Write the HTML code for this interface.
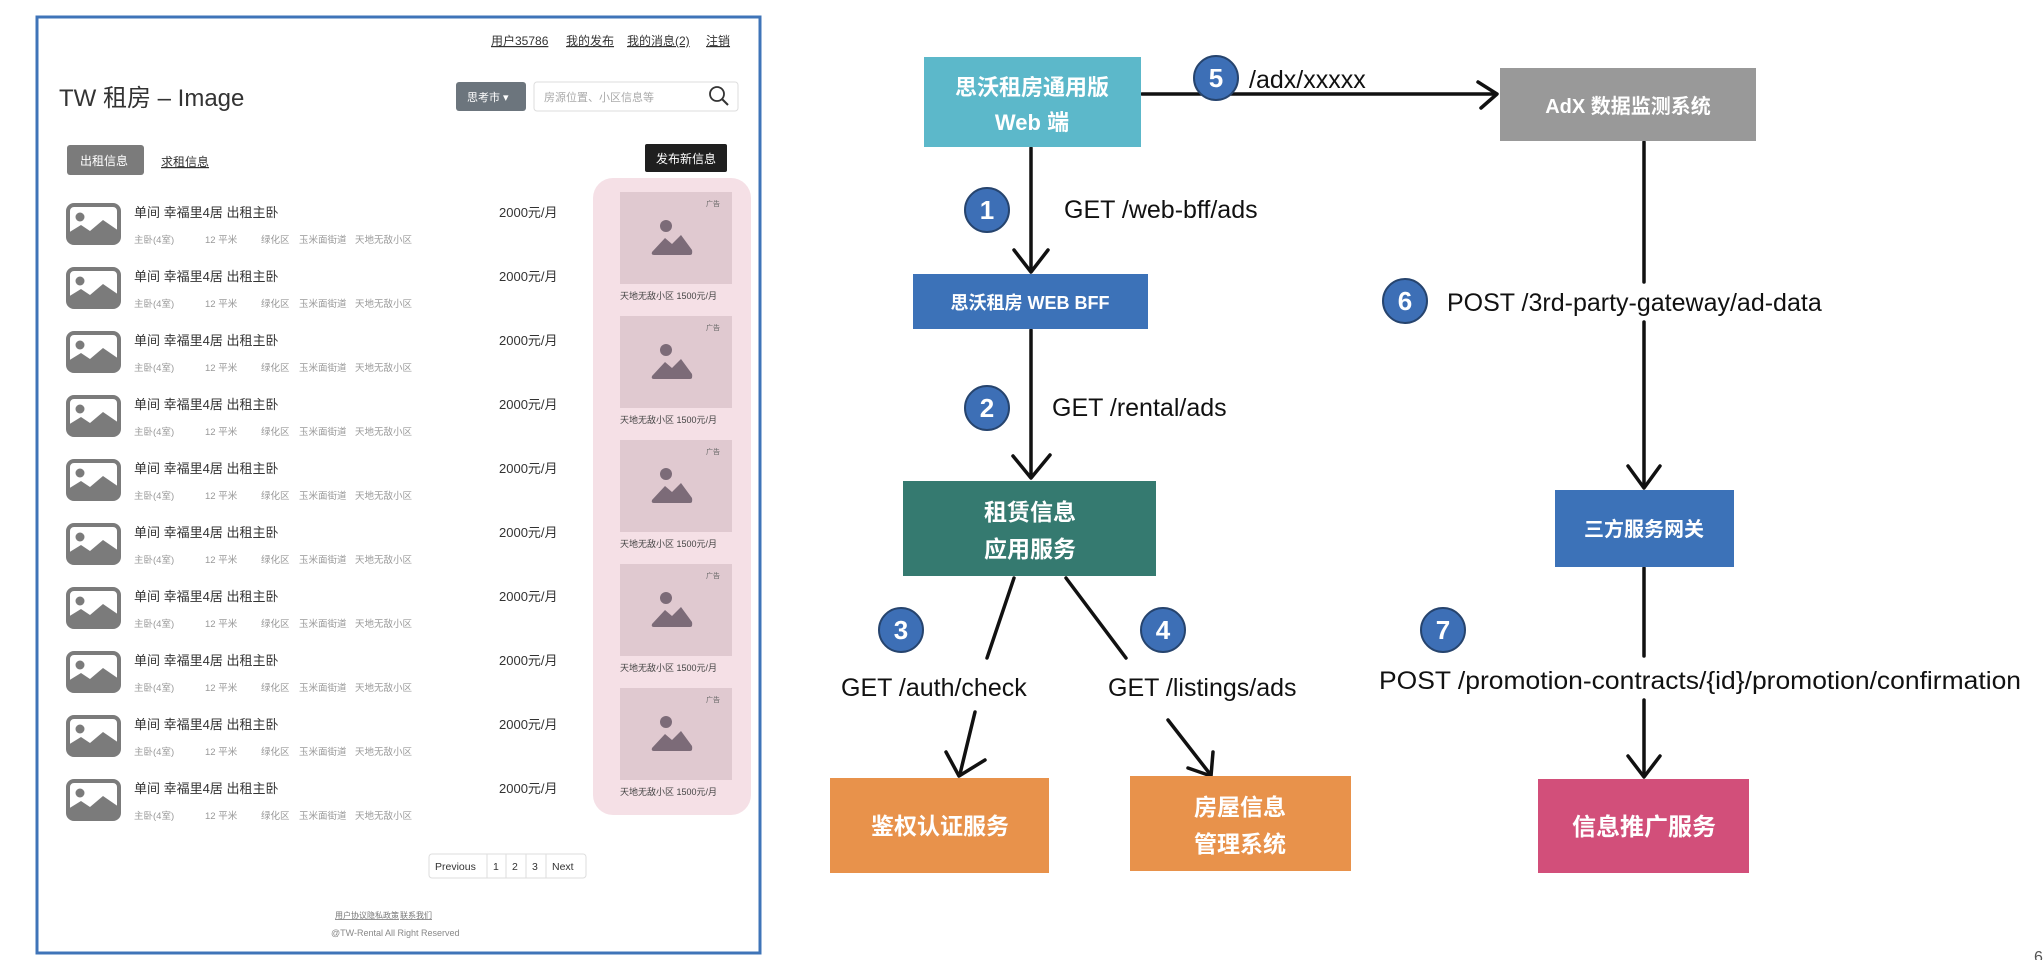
<!DOCTYPE html>
<html><head><meta charset="utf-8"><style>
html,body{margin:0;padding:0;background:#fff;}
svg{display:block;}
text{font-family:"Liberation Sans","Noto Sans CJK SC",sans-serif;}
</style></head><body>
<svg width="2044" height="960" viewBox="0 0 2044 960" xmlns="http://www.w3.org/2000/svg">
<defs>
<g id="ico">
<rect x="2" y="2" width="51" height="38" rx="6" fill="#fff" stroke="#7b7b7b" stroke-width="4"/>
<circle cx="14" cy="14" r="4.5" fill="#7b7b7b"/>
<path d="M2 30 L15 22 L24 28 L37 17 L53 28 L53 34 Q53 40 47 40 L8 40 Q2 40 2 34Z" fill="#7b7b7b"/>
</g>
<g id="row">
<use href="#ico"/>
<text x="68" y="14" font-size="13" fill="#333">单间 幸福里4居 出租主卧</text>
<text x="68" y="40" font-size="9.5" fill="#999">主卧(4室)</text>
<text x="139" y="40" font-size="9.5" fill="#999">12 平米</text>
<text x="195" y="40" font-size="9.5" fill="#999">绿化区</text>
<text x="233" y="40" font-size="9.5" fill="#999">玉米面街道</text>
<text x="289" y="40" font-size="9.5" fill="#999">天地无敌小区</text>
<text x="433" y="14" font-size="13" fill="#333">2000元/月</text>
</g>
<g id="ad">
<rect x="0" y="0" width="112" height="92" fill="#e0c9d0"/>
<text x="100" y="14" font-size="7" fill="#666" text-anchor="end">广告</text>
<circle cx="46" cy="34" r="6" fill="#7c6b78"/>
<path d="M32 60 L45 46 L52 52 L61 43 L72 58 Q73 63 70 63 L34 63 Q31 63 32 60Z" fill="#7c6b78"/>
<text x="0" y="107" font-size="9" fill="#444">天地无敌小区  1500元/月</text>
</g>
<g id="c">
<circle r="22" fill="#3d6fb6" stroke="#26446e" stroke-width="2"/>
</g>
</defs>

<!-- LEFT PANEL -->
<rect x="37" y="17" width="723" height="936" fill="#fff" stroke="#3f74b8" stroke-width="3"/>
<g font-size="12" fill="#333" text-decoration="underline">
<text x="491" y="45">用户35786</text>
<text x="566" y="45">我的发布</text>
<text x="627" y="45">我的消息(2)</text>
<text x="706" y="45">注销</text>
</g>
<text x="59" y="106" font-size="24" fill="#333">TW 租房 – Image</text>
<rect x="456" y="82" width="70" height="29" rx="3" fill="#6c757d"/>
<text x="467" y="101" font-size="11" fill="#fff">思考市 ▾</text>
<rect x="534" y="82" width="204" height="29" rx="3" fill="#fff" stroke="#ddd"/>
<text x="544" y="101" font-size="11" fill="#aaa">房源位置、小区信息等</text>
<circle cx="717" cy="94" r="7" fill="none" stroke="#333" stroke-width="1.8"/>
<line x1="722" y1="99" x2="728" y2="105" stroke="#333" stroke-width="2"/>
<rect x="67" y="145" width="77" height="30" rx="3" fill="#7b7b7b"/>
<text x="80" y="165" font-size="12" fill="#fff">出租信息</text>
<text x="161" y="166" font-size="12" fill="#333" text-decoration="underline">求租信息</text>
<rect x="645" y="144" width="82" height="28" rx="2" fill="#1f1f1f"/>
<text x="656" y="163" font-size="12" fill="#fff">发布新信息</text>

<rect x="593" y="178" width="158" height="637" rx="20" fill="#f5e0e6"/>
<use href="#ad" x="620" y="192"/>
<use href="#ad" x="620" y="316"/>
<use href="#ad" x="620" y="440"/>
<use href="#ad" x="620" y="564"/>
<use href="#ad" x="620" y="688"/>

<use href="#row" x="66" y="203"/>
<use href="#row" x="66" y="267"/>
<use href="#row" x="66" y="331"/>
<use href="#row" x="66" y="395"/>
<use href="#row" x="66" y="459"/>
<use href="#row" x="66" y="523"/>
<use href="#row" x="66" y="587"/>
<use href="#row" x="66" y="651"/>
<use href="#row" x="66" y="715"/>
<use href="#row" x="66" y="779"/>

<g stroke="#ddd" fill="#fff">
<rect x="429" y="854" width="157" height="24" rx="3"/>
<line x1="487" y1="854" x2="487" y2="878"/>
<line x1="506" y1="854" x2="506" y2="878"/>
<line x1="526" y1="854" x2="526" y2="878"/>
<line x1="546" y1="854" x2="546" y2="878"/>
</g>
<g font-size="10.5" fill="#333">
<text x="435" y="870">Previous</text>
<text x="493" y="870">1</text>
<text x="512" y="870">2</text>
<text x="532" y="870">3</text>
<text x="552" y="870">Next</text>
</g>
<g font-size="8" fill="#777" text-decoration="underline">
<text x="335" y="918">用户协议</text>
<text x="367" y="918">隐私政策</text>
<text x="400" y="918">联系我们</text>
</g>
<text x="331" y="936" font-size="9" fill="#888">@TW-Rental All Right Reserved</text>

<!-- RIGHT DIAGRAM -->
<g stroke="#111" stroke-width="3.5" fill="none" stroke-linecap="round" stroke-linejoin="round">
<path d="M1142 94 L1496 94"/>
<path d="M1478 82 L1497 94 L1481 108"/>
<path d="M1031 148 L1031 270"/>
<path d="M1014 250 L1031 272 L1048 250"/>
<path d="M1031 330 L1031 477"/>
<path d="M1013 456 L1031 478 L1050 455"/>
<path d="M1014 578 L987 658"/>
<path d="M975 712 L960 774"/>
<path d="M946 752 L959 776 L985 760"/>
<path d="M1066 578 L1126 658"/>
<path d="M1168 720 L1210 774"/>
<path d="M1188 768 L1211 776 L1213 752"/>
<path d="M1644 142 L1644 282"/>
<path d="M1644 322 L1644 486"/>
<path d="M1628 466 L1644 488 L1660 466"/>
<path d="M1644 568 L1644 656"/>
<path d="M1644 700 L1644 775"/>
<path d="M1628 756 L1644 777 L1660 756"/>
</g>

<rect x="924" y="57" width="217" height="90" fill="#5cb8ca"/>
<text x="1032" y="95" font-size="22" font-weight="bold" fill="#fff" text-anchor="middle">思沃租房通用版</text>
<text x="1032" y="130" font-size="22" font-weight="bold" fill="#fff" text-anchor="middle">Web 端</text>

<rect x="1500" y="68" width="256" height="73" fill="#999"/>
<text x="1628" y="113" font-size="20" font-weight="bold" fill="#fff" text-anchor="middle">AdX 数据监测系统</text>

<rect x="913" y="274" width="235" height="55" fill="#3c72b8"/>
<text x="1030" y="309" font-size="18" font-weight="bold" fill="#fff" text-anchor="middle">思沃租房 WEB BFF</text>

<rect x="903" y="481" width="253" height="95" fill="#357a70"/>
<text x="1030" y="520" font-size="23" font-weight="bold" fill="#fff" text-anchor="middle">租赁信息</text>
<text x="1030" y="557" font-size="23" font-weight="bold" fill="#fff" text-anchor="middle">应用服务</text>

<rect x="830" y="778" width="219" height="95" fill="#e8924b"/>
<text x="940" y="834" font-size="23" font-weight="bold" fill="#fff" text-anchor="middle">鉴权认证服务</text>

<rect x="1130" y="776" width="221" height="95" fill="#e8924b"/>
<text x="1240" y="815" font-size="23" font-weight="bold" fill="#fff" text-anchor="middle">房屋信息</text>
<text x="1240" y="852" font-size="23" font-weight="bold" fill="#fff" text-anchor="middle">管理系统</text>

<rect x="1555" y="490" width="179" height="77" fill="#3c72b8"/>
<text x="1644" y="536" font-size="20" font-weight="bold" fill="#fff" text-anchor="middle">三方服务网关</text>

<rect x="1538" y="779" width="211" height="94" fill="#d24f7a"/>
<text x="1644" y="835" font-size="24" font-weight="bold" fill="#fff" text-anchor="middle">信息推广服务</text>

<g font-size="25" fill="#111">
<text x="1249" y="88">/adx/xxxxx</text>
<text x="1064" y="218">GET /web-bff/ads</text>
<text x="1052" y="416">GET /rental/ads</text>
<text x="841" y="696">GET /auth/check</text>
<text x="1108" y="696">GET /listings/ads</text>
<text x="1447" y="311">POST /3rd-party-gateway/ad-data</text>
<text x="1379" y="689" textLength="642" lengthAdjust="spacingAndGlyphs">POST /promotion-contracts/{id}/promotion/confirmation</text>
</g>

<g font-size="26" font-weight="bold" fill="#fff" text-anchor="middle">
<use href="#c" x="1216" y="78"/><text x="1216" y="87">5</text>
<use href="#c" x="987" y="210"/><text x="987" y="219">1</text>
<use href="#c" x="987" y="408"/><text x="987" y="417">2</text>
<use href="#c" x="901" y="630"/><text x="901" y="639">3</text>
<use href="#c" x="1163" y="630"/><text x="1163" y="639">4</text>
<use href="#c" x="1405" y="301"/><text x="1405" y="310">6</text>
<use href="#c" x="1443" y="630"/><text x="1443" y="639">7</text>
</g>
<text x="2034" y="962" font-size="16" fill="#555">6</text>
</svg>
</body></html>
